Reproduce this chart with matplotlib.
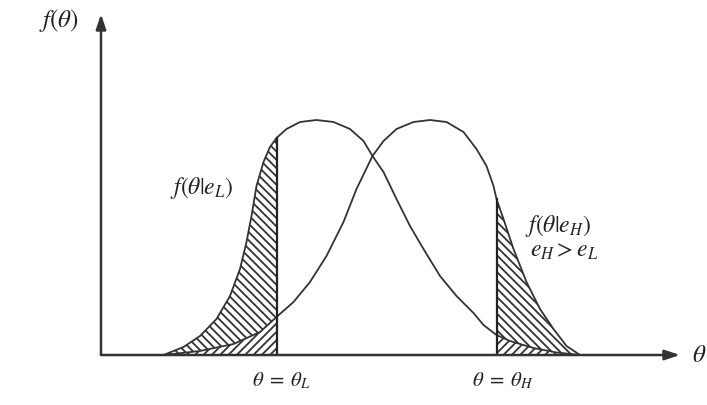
import numpy as np
import matplotlib.pyplot as plt

plt.rcParams['mathtext.fontset'] = 'stix'
plt.rcParams['font.family'] = 'Liberation Serif'
plt.rcParams['hatch.color'] = '#333333'
plt.rcParams['hatch.linewidth'] = 1.3

# f(theta | e_L)
theta_l = np.array([1.25, 1.65, 1.98, 2.31, 2.58, 2.78, 2.91, 3.01, 3.11, 3.25, 3.38, 3.51,
                    3.71, 3.98, 4.31, 4.65, 4.98, 5.25, 5.43, 5.65, 5.91, 6.18, 6.45, 6.78,
                    7.11, 7.45, 7.65, 7.91, 8.18, 8.65, 9.11, 9.58])
f_l = np.array([0.00, 0.08, 0.19, 0.36, 0.59, 0.86, 1.13, 1.39, 1.69, 1.93, 2.08, 2.17,
                2.26, 2.33, 2.35, 2.33, 2.26, 2.14, 1.99, 1.83, 1.56, 1.29, 1.06, 0.79,
                0.59, 0.42, 0.30, 0.20, 0.14, 0.07, 0.025, 0.00])

# f(theta | e_H)
theta_h = np.array([1.25, 1.98, 2.65, 3.18, 3.51, 3.85, 4.18, 4.51, 4.85, 5.11, 5.43, 5.65,
                    5.91, 6.25, 6.58, 6.91, 7.25, 7.51, 7.71, 7.85, 7.91, 8.05, 8.25, 8.51,
                    8.78, 9.05, 9.31, 9.58])
f_h = np.array([0.00, 0.04, 0.11, 0.23, 0.38, 0.53, 0.73, 0.99, 1.33, 1.66, 1.99, 2.14,
                2.26, 2.33, 2.35, 2.33, 2.23, 2.06, 1.89, 1.69, 1.56, 1.36, 1.06, 0.73,
                0.46, 0.26, 0.09, 0.00])

theta_L = 3.51
theta_H = 7.91

fig = plt.figure(figsize=(7.07, 4.06), dpi=100)
ax = fig.add_axes([101 / 707, 50 / 406, 606 / 707, 356 / 406])
ax.set_xlim(0, 12.12)
ax.set_ylim(0, 3.56)
ax.axis('off')

line_c = '#333333'

# shaded tails: below theta_L and above theta_H
m = theta_l <= theta_L
ax.fill_between(theta_l[m], 0, f_l[m], facecolor='white', edgecolor=line_c, hatch='\\\\\\\\', linewidth=0)
m = theta_h <= theta_L
ax.fill_between(theta_h[m], 0, f_h[m], facecolor='white', edgecolor=line_c, hatch='////', linewidth=0)
m = theta_h >= theta_H
ax.fill_between(theta_h[m], 0, f_h[m], facecolor='white', edgecolor=line_c, hatch='\\\\\\\\', linewidth=0)
m = theta_l >= theta_H
ax.fill_between(theta_l[m], 0, f_l[m], facecolor='white', edgecolor=line_c, hatch='////', linewidth=0)

# curves
ax.plot(theta_l, f_l, color=line_c, lw=1.3, solid_joinstyle='round')
ax.plot(theta_h, f_h, color=line_c, lw=1.3, solid_joinstyle='round')

# cut-off lines
ax.plot([theta_L, theta_L], [0, f_l[theta_l == theta_L][0]], color='#222222', lw=1.6)
ax.plot([theta_H, theta_H], [0, f_h[theta_h == theta_H][0]], color='#222222', lw=1.6)

# axes with arrows
arrow = dict(arrowstyle='-|>,head_length=0.9,head_width=0.3', color='#333333', lw=1.8,
             shrinkA=0, shrinkB=0)
ax.annotate('', xy=(11.58, 0), xytext=(0, 0), arrowprops=arrow, annotation_clip=False)
ax.annotate('', xy=(0, 3.41), xytext=(0, 0), arrowprops=arrow, annotation_clip=False)

tc = '#222222'
ax.text(-0.84, 3.36, r'$f(\theta)$', fontsize=18, color=tc, ha='center', va='center', clip_on=False)
ax.text(11.96, 0.0, r'$\theta$', fontsize=18, color=tc, ha='center', va='center', clip_on=False)
ax.text(2.01, 1.68, r'$f(\theta|e_L)$', fontsize=17, color=tc, ha='center', va='center')
ax.text(9.14, 1.30, r'$f(\theta|e_H)$', fontsize=17, color=tc, ha='center', va='center')
ax.text(9.26, 1.04, r'$e_H > e_L$', fontsize=17, color=tc, ha='center', va='center')
ax.text(3.6, -0.25, r'$\theta\;{=}\;\theta_L$', fontsize=15, color=tc, ha='center', va='center', clip_on=False)
ax.text(8.04, -0.25, r'$\theta\;{=}\;\theta_H$', fontsize=15, color=tc, ha='center', va='center', clip_on=False)

fig.savefig('out.png', dpi=100)
